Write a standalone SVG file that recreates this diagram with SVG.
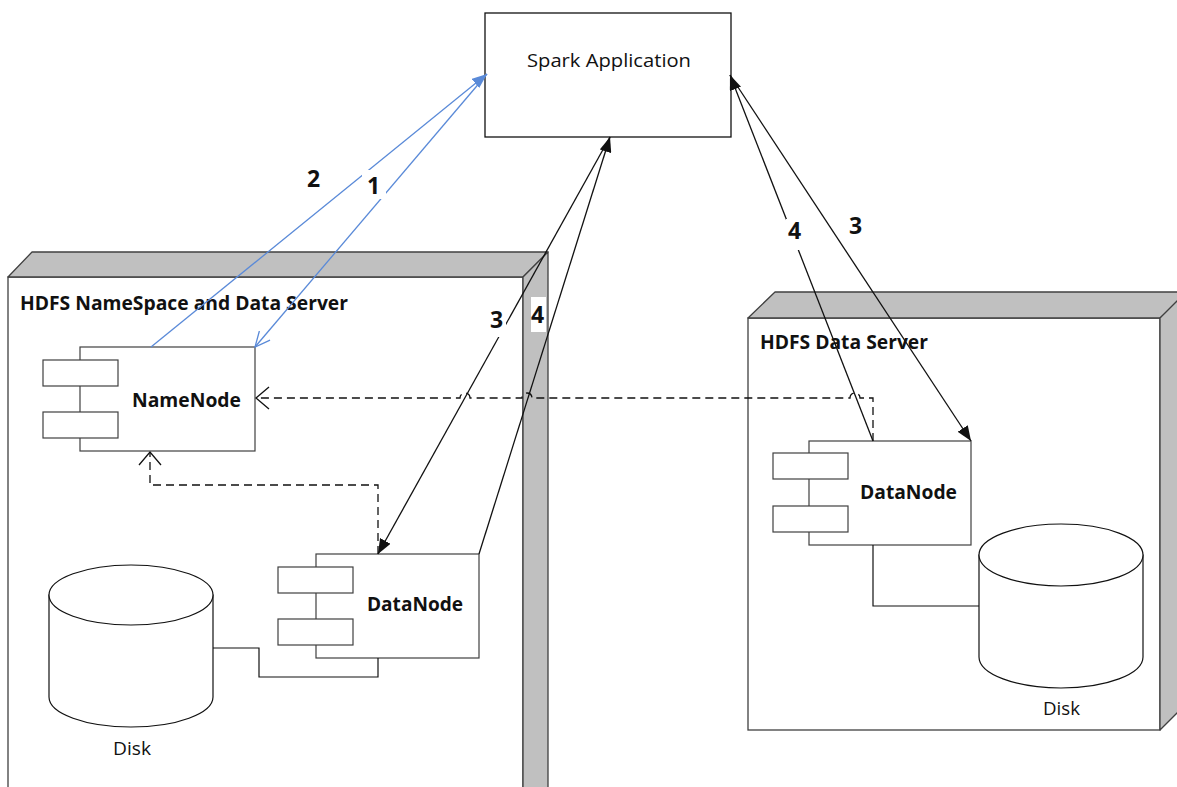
<svg xmlns="http://www.w3.org/2000/svg" width="1177" height="787" viewBox="0 0 1177 787">
<style>
  .face{fill:#fff;stroke:#404040;stroke-width:1.3}
  .shade{fill:#c0c0c0;stroke:#404040;stroke-width:1.3;stroke-linejoin:round}
  .comp{fill:#fff;stroke:#404040;stroke-width:1.2}
  .disk{fill:#fff;stroke:#111;stroke-width:1.2}
  .lbl{font-family:"Open Sans","Noto Sans",sans-serif;font-size:20px;font-weight:bold;fill:#111}
  .reg{font-family:"Open Sans","Noto Sans",sans-serif;font-size:19px;fill:#111}
  .num{font-family:"Open Sans","Noto Sans",sans-serif;font-size:23px;font-weight:bold;fill:#111}
  .blk{fill:none;stroke:#111;stroke-width:1.3}
  .blue{fill:none;stroke:#5a8ad8;stroke-width:1.3}
  .dash{fill:none;stroke:#111;stroke-width:1.3;stroke-dasharray:8 5}
  .wire{fill:none;stroke:#111;stroke-width:1.2}
</style>
<defs>
  <marker id="arrBlk" markerUnits="userSpaceOnUse" viewBox="0 0 15 12" markerWidth="15" markerHeight="12" refX="15" refY="6" orient="auto">
    <path d="M0,0 L15,6 L0,12 Z" fill="#111"/>
  </marker>
  <marker id="arrBlue" markerUnits="userSpaceOnUse" viewBox="0 0 15 12" markerWidth="15" markerHeight="12" refX="15" refY="6" orient="auto">
    <path d="M0,0 L15,6 L0,12 Z" fill="#5a8ad8"/>
  </marker>
  <marker id="openBlue" markerUnits="userSpaceOnUse" viewBox="-1 -1 17 16" markerWidth="17" markerHeight="16" refX="15" refY="7" orient="auto">
    <path d="M0,0 L15,7 L0,14" fill="none" stroke="#5a8ad8" stroke-width="1.3"/>
  </marker>
  <marker id="openBlk" markerUnits="userSpaceOnUse" viewBox="-1 -1 16 25" markerWidth="16" markerHeight="25" refX="13" refY="11" orient="auto">
    <path d="M0,0 L13,11 L0,22" fill="none" stroke="#111" stroke-width="1.3" stroke-dasharray="none"/>
  </marker>
</defs>

<g id="hdfs-namespace-server">
  <rect class="face" x="8" y="277" width="515" height="530"/>
  <polygon class="shade" points="8,277 32,252 548,252 523,277"/>
  <polygon class="shade" points="523,277 548,252 548,810 523,810"/>
  <text class="lbl" x="20" y="310" textLength="328" lengthAdjust="spacingAndGlyphs">HDFS NameSpace and Data Server</text>
</g>

<g id="hdfs-data-server">
  <rect class="face" x="748" y="318" width="412" height="412"/>
  <polygon class="shade" points="748,318 775,292 1190,292 1160,318"/>
  <polygon class="shade" points="1160,318 1190,288 1190,700 1160,730"/>
  <text class="lbl" x="760" y="349" textLength="168" lengthAdjust="spacingAndGlyphs">HDFS Data Server</text>
</g>

<g id="spark-application">
  <rect x="485" y="13" width="246" height="124" fill="#fff" stroke="#111" stroke-width="1.3"/>
  <text class="reg" x="527" y="67" textLength="164" lengthAdjust="spacingAndGlyphs">Spark Application</text>
</g>

<g id="namenode">
  <rect class="comp" x="80" y="347" width="175" height="104"/>
  <rect class="comp" x="43" y="360" width="75" height="26"/>
  <rect class="comp" x="43" y="412" width="75" height="26"/>
  <text class="lbl" x="132" y="407" textLength="109" lengthAdjust="spacingAndGlyphs">NameNode</text>
</g>

<g id="datanode-left">
  <rect class="comp" x="316" y="554" width="163" height="104"/>
  <rect class="comp" x="278" y="567" width="75" height="26"/>
  <rect class="comp" x="278" y="619" width="75" height="26"/>
  <text class="lbl" x="367" y="611" textLength="96" lengthAdjust="spacingAndGlyphs">DataNode</text>
</g>

<g id="disk-left">
  <path class="disk" d="M49,595 V697 A82,30 0 0 0 213,697 V595 Z"/>
  <ellipse class="disk" cx="131" cy="595" rx="82" ry="30"/>
  <text class="reg" x="113" y="755" textLength="38" lengthAdjust="spacingAndGlyphs">Disk</text>
</g>

<g id="datanode-right">
  <rect class="comp" x="809" y="441" width="162" height="104"/>
  <rect class="comp" x="773" y="453" width="75" height="26"/>
  <rect class="comp" x="773" y="506" width="75" height="26"/>
  <text class="lbl" x="860" y="499" textLength="97" lengthAdjust="spacingAndGlyphs">DataNode</text>
</g>

<g id="disk-right">
  <path class="disk" d="M979,555 V657 A82,31 0 0 0 1143,657 V555 Z"/>
  <ellipse class="disk" cx="1061" cy="555" rx="82" ry="31"/>
  <text class="reg" x="1043" y="715" textLength="37" lengthAdjust="spacingAndGlyphs">Disk</text>
</g>

<g id="connectors">
  <path class="wire" d="M213,648 H259 V677 H378 V658"/>
  <path class="wire" d="M873,545 V606 H979"/>
  <path class="dash" d="M873,441 V398 H860 A5,5 0 0 0 850,398 H532 A5,5 0 0 0 522,398 H470 A5,5 0 0 0 460,398 H256" marker-end="url(#openBlk)"/>
  <path class="dash" d="M378,554 V485 H150 V452" marker-end="url(#openBlk)"/>
  <path class="blue" d="M151,347 L487,74" marker-end="url(#arrBlue)"/>
  <path class="blue" d="M487,74 L255,347" marker-end="url(#openBlue)"/>
  <path class="blk" d="M479,554 L610,137" marker-end="url(#arrBlk)"/>
  <path class="blk" d="M610,137 L378,554" marker-end="url(#arrBlk)"/>
  <path class="blk" d="M873,441 L730,75" marker-end="url(#arrBlk)"/>
  <path class="blk" d="M730,75 L971,441" marker-end="url(#arrBlk)"/>
</g>

<g id="labels">
  <text class="num" x="307" y="187">2</text>
  <rect x="362" y="170" width="24" height="29" fill="#fff"/>
  <text class="num" x="367" y="194">1</text>
  <rect x="488" y="304" width="18" height="33" fill="#fff"/>
  <text class="num" x="490" y="328">3</text>
  <rect x="531" y="297" width="15" height="35" fill="#fff"/>
  <text class="num" x="531" y="323">4</text>
  <rect x="786" y="219" width="20" height="31" fill="#fff"/>
  <text class="num" x="788" y="239">4</text>
  <text class="num" x="849" y="234">3</text>
</g>
</svg>
